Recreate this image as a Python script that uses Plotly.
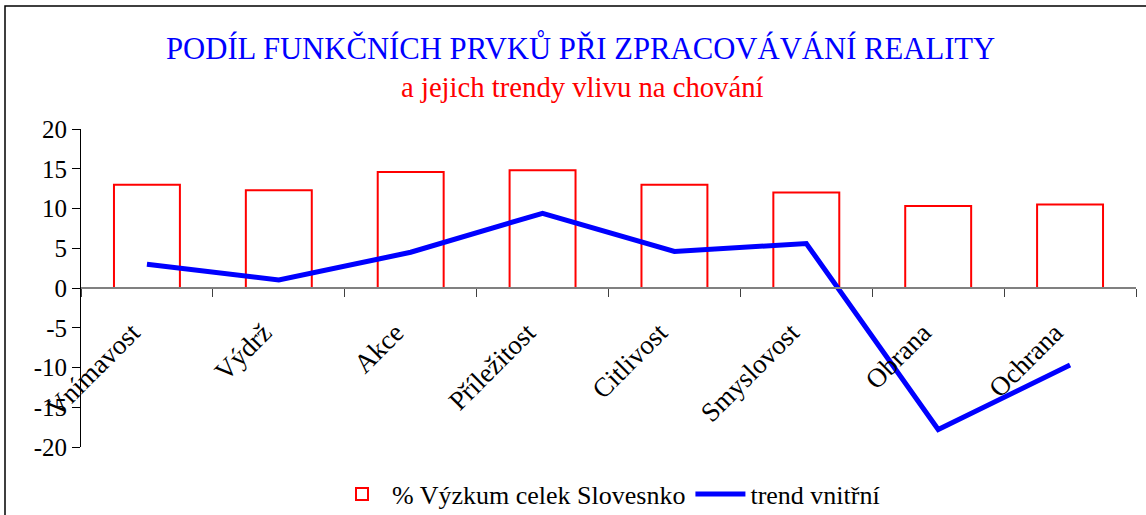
import plotly.graph_objects as go

categories = ["Vnímavost", "Výdrž", "Akce", "Příležitost", "Citlivost", "Smyslovost", "Obrana", "Ochrana"]
research_pct = [13.0, 12.3, 14.6, 14.8, 13.0, 12.0, 10.3, 10.5]
trend_inner = [3.0, 1.0, 4.5, 9.4, 4.6, 5.6, -17.8, -9.7]
y_ticks = [20, 15, 10, 5, 0, -5, -10, -15, -20]

FONT = "Liberation Serif, serif"

fig = go.Figure()
fig.add_trace(go.Bar(
    x=categories, y=research_pct, name="% Výzkum celek Slovesnko",
    marker=dict(color="rgba(255,255,255,0)", line=dict(color="#ff0000", width=2)),
    width=0.5,
))
fig.add_trace(go.Scatter(
    x=categories, y=trend_inner, name="trend vnitřní", mode="lines",
    line=dict(color="#0000ff", width=5),
))

fig.update_layout(
    width=1146, height=515,
    margin=dict(l=81, r=10, t=129, b=68, autoexpand=False),
    paper_bgcolor="white", plot_bgcolor="white",
    font=dict(family=FONT, color="black", size=24),
    showlegend=True,
    legend=dict(orientation="h", x=0.5, xanchor="center", y=-0.148, yanchor="middle",
                font=dict(family=FONT, size=26, color="black"), traceorder="normal",
                itemwidth=50),
    xaxis=dict(
        type="category", anchor="free", position=0.5,
        showline=True, linecolor="#808080", linewidth=2,
        ticks="outside", ticklen=8, tickcolor="#404040", tickson="boundaries",
        tickangle=-45, showgrid=False, automargin=False,
        ticklabelstandoff=17, ticklabelshift=-15,
        tickfont=dict(family=FONT, size=27),
    ),
    yaxis=dict(
        range=[-20, 20], tickvals=y_ticks, ticktext=[str(v) for v in y_ticks],
        showline=True, linecolor="black", linewidth=1,
        ticks="outside", ticklen=8, tickcolor="black",
        showgrid=False, zeroline=False, automargin=False,
        tickfont=dict(family=FONT, size=25),
    ),
    annotations=[
        dict(text="PODÍL FUNKČNÍCH PRVKŮ PŘI ZPRACOVÁVÁNÍ REALITY", x=(580.5 - 81) / 1055, xref="paper",
             y=(447 - 47) / 318, yref="paper", yanchor="middle", showarrow=False,
             font=dict(family=FONT, size=30.7, color="#0000ff")),
        dict(text="a jejich trendy vlivu na chování", x=(581.5 - 81) / 1055, xref="paper",
             y=(447 - 87) / 318, yref="paper", yanchor="middle", showarrow=False,
             font=dict(family=FONT, size=28.7, color="#ff0000")),
    ],
    shapes=[dict(type="rect", xref="paper", yref="paper",
                 x0=(5 - 81) / 1055, x1=(1150 - 81) / 1055,
                 y0=(447 - 530) / 318, y1=(447 - 6) / 318,
                 line=dict(color="black", width=1.5), layer="below")],
)

fig.write_html("out.html", config={"displayModeBar": False},
               post_script="document.body.style.margin='0';")
